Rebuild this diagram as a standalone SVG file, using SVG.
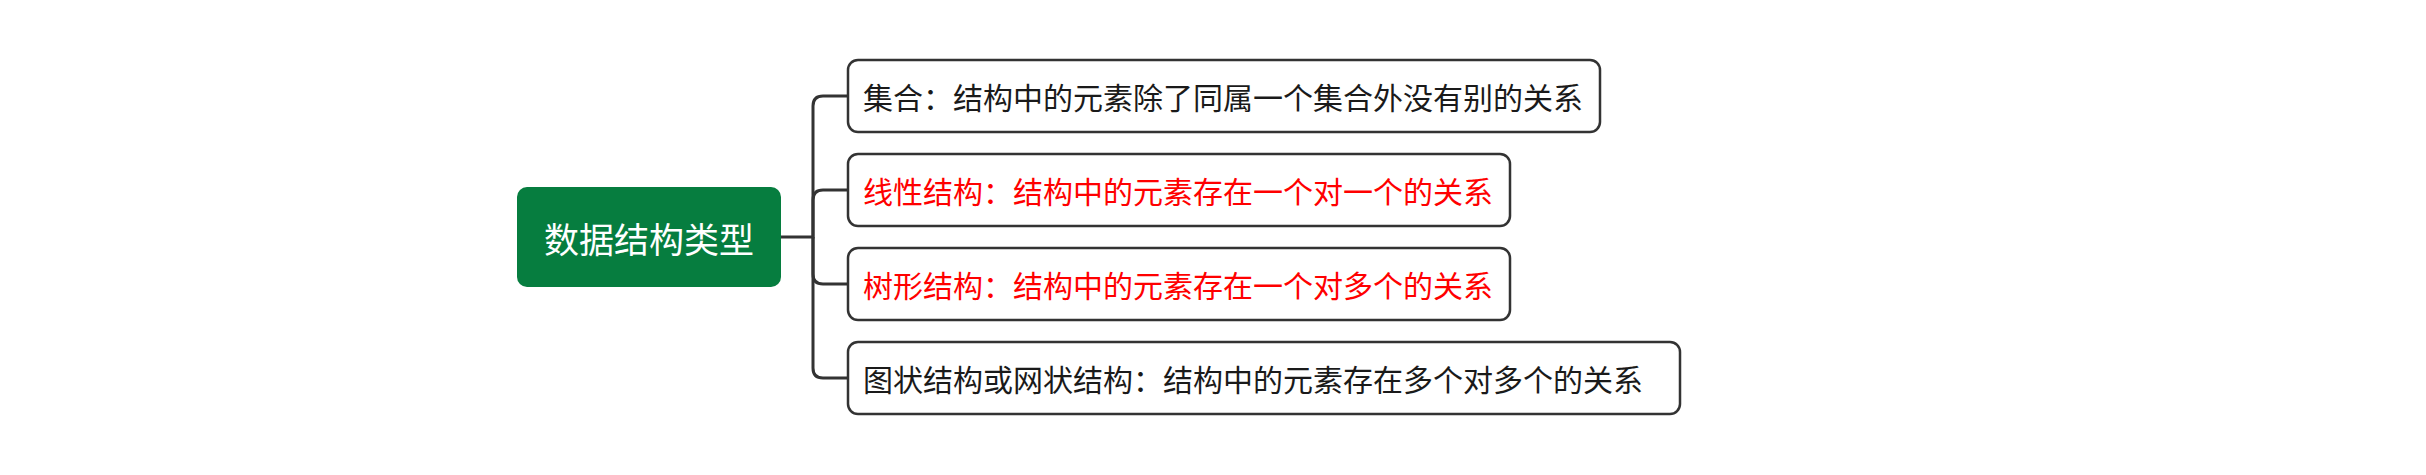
<svg xmlns="http://www.w3.org/2000/svg" width="2426" height="475" viewBox="0 0 2426 475">
<style>
.bg{fill:#ffffff}
.root{fill:#067d3f}
.rt{fill:#ffffff;font-family:"Noto Sans CJK SC","Noto Sans CJK JP",sans-serif;font-size:35px}
.box{fill:#ffffff;stroke:#333333;stroke-width:2.5}
.t{font-family:"Noto Sans CJK SC","Noto Sans CJK JP",sans-serif;font-size:30px;fill:#1a1a1a}
.red{fill:#ff0000}
.ln{fill:none;stroke:#333333;stroke-width:3}
</style>
<rect class="bg" x="0" y="0" width="2426" height="475"/>
<g id="connectors">
<path class="ln" d="M781,237 H813 V106 Q813,96 823,96 H848"/>
<path class="ln" d="M813,237 V200 Q813,190 823,190 H848"/>
<path class="ln" d="M813,237 V274 Q813,284 823,284 H848"/>
<path class="ln" d="M813,237 V368 Q813,378 823,378 H848"/>
</g>
<g id="root">
<rect class="root" x="517" y="187" width="264" height="100" rx="10"/>
<text class="rt" x="649" y="237" text-anchor="middle" dominant-baseline="central">数据结构类型</text>
</g>
<g id="n1">
<rect class="box" x="848" y="60" width="752" height="72" rx="10"/>
<text class="t" x="863" y="96" dominant-baseline="central">集合：结构中的元素除了同属一个集合外没有别的关系</text>
</g>
<g id="n2">
<rect class="box" x="848" y="154" width="662" height="72" rx="10"/>
<text class="t red" x="863" y="190" dominant-baseline="central">线性结构：结构中的元素存在一个对一个的关系</text>
</g>
<g id="n3">
<rect class="box" x="848" y="248" width="662" height="72" rx="10"/>
<text class="t red" x="863" y="284" dominant-baseline="central">树形结构：结构中的元素存在一个对多个的关系</text>
</g>
<g id="n4">
<rect class="box" x="848" y="342" width="832" height="72" rx="10"/>
<text class="t" x="863" y="378" dominant-baseline="central">图状结构或网状结构：结构中的元素存在多个对多个的关系</text>
</g>
</svg>
